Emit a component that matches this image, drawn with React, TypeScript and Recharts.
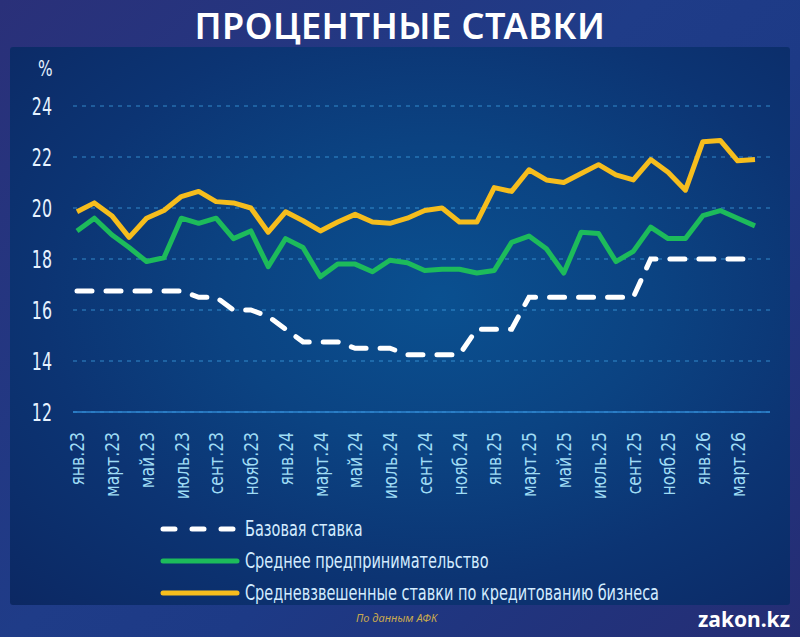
import React from 'react';
import { LineChart, Line, XAxis, YAxis, CartesianGrid, Legend } from 'recharts';

const months = [
  'янв.23', 'февр.23', 'март.23', 'апр.23', 'май.23', 'июнь.23', 'июль.23', 'авг.23', 'сент.23', 'окт.23', 'нояб.23', 'дек.23',
  'янв.24', 'февр.24', 'март.24', 'апр.24', 'май.24', 'июнь.24', 'июль.24', 'авг.24', 'сент.24', 'окт.24', 'нояб.24', 'дек.24',
  'янв.25', 'февр.25', 'март.25', 'апр.25', 'май.25', 'июнь.25', 'июль.25', 'авг.25', 'сент.25', 'окт.25', 'нояб.25', 'дек.25',
  'янв.26', 'февр.26', 'март.26', 'апр.26',
];

const baseRate = [
  16.75, 16.75, 16.75, 16.75, 16.75, 16.75, 16.75, 16.5, 16.5, 16.0, 16.0, 15.75,
  15.25, 14.75, 14.75, 14.75, 14.5, 14.5, 14.5, 14.25, 14.25, 14.25, 14.25, 15.25,
  15.25, 15.25, 16.5, 16.5, 16.5, 16.5, 16.5, 16.5, 16.5, 18, 18, 18,
  18, 18, 18, 18,
];

const avgBusiness = [
  19.1, 19.6, 18.95, 18.45, 17.9, 18.05, 19.6, 19.4, 19.6, 18.8, 19.1, 17.7,
  18.8, 18.45, 17.3, 17.8, 17.8, 17.5, 17.95, 17.85, 17.55, 17.6, 17.6, 17.45,
  17.55, 18.65, 18.9, 18.4, 17.45, 19.05, 19.0, 17.9, 18.3, 19.25, 18.8, 18.8,
  19.7, 19.9, 19.6, 19.3,
];

const weightedLending = [
  19.85, 20.2, 19.7, 18.85, 19.6, 19.9, 20.45, 20.65, 20.25, 20.2, 20.0, 19.05,
  19.85, 19.5, 19.1, 19.45, 19.75, 19.45, 19.4, 19.6, 19.9, 20.0, 19.45, 19.45,
  20.8, 20.65, 21.5, 21.1, 21.0, 21.35, 21.7, 21.3, 21.1, 21.9, 21.4, 20.7,
  22.6, 22.65, 21.85, 21.9,
];

const seriesOrder = ['base', 'avg', 'weighted'];
const yTicks = [12, 14, 16, 18, 20, 22, 24];
const xTicks = months.map((_, i) => i).filter((i) => i % 2 === 0);

const data = months.map((m, i) => ({
  idx: i,
  month: m,
  base: baseRate[i],
  avg: avgBusiness[i],
  weighted: weightedLending[i],
}));

const FONT = "'DejaVu Sans', sans-serif";

const XTick = (props: any) => {
  const { x, y, payload } = props;
  const ty = y + 12;
  return (
    <g transform={`translate(${x}, ${ty}) rotate(-90) scale(0.78, 1)`}>
      <text x={0} y={0} textAnchor="end" dy="0.36em" fill="#9fdcf5" fontSize={20} fontFamily={FONT}>
        {months[payload.value]}
      </text>
    </g>
  );
};

const YTick = (props: any) => {
  const { x, y, payload } = props;
  return (
    <g transform={`translate(${x}, ${y}) scale(0.66, 1)`}>
      <text x={0} y={0} textAnchor="end" dy="0.36em" fill="#e6f2ff" fontSize={24} fontFamily={FONT}>
        {payload.value}
      </text>
    </g>
  );
};

const LegendBox = (props: any) => {
  const items = [...(props.payload || [])].sort(
    (a: any, b: any) => seriesOrder.indexOf(a.dataKey) - seriesOrder.indexOf(b.dataKey)
  );
  return (
    <div style={{ display: 'flex', flexDirection: 'column', gap: 8 }}>
      {items.map((entry: any) => (
        <div key={entry.dataKey} style={{ display: 'flex', alignItems: 'center', height: 24 }}>
          <svg width={82} height={10} style={{ marginRight: 4, flex: 'none' }}>
            <line
              x1={4}
              y1={5}
              x2={78}
              y2={5}
              stroke={entry.color}
              strokeWidth={5}
              strokeLinecap="round"
              strokeDasharray={entry.dataKey === 'base' ? '12 17' : undefined}
            />
          </svg>
          <span
            style={{
              color: '#d3ecff',
              fontSize: 21,
              fontFamily: FONT,
              whiteSpace: 'nowrap',
              display: 'inline-block',
              transform: 'scaleX(0.69)',
              transformOrigin: 'left center',
            }}
          >
            {entry.value}
          </span>
        </div>
      ))}
    </div>
  );
};

export default function App() {
  return (
    <div
      style={{
        position: 'absolute',
        left: 0,
        top: 0,
        width: 800,
        height: 637,
        overflow: 'hidden',
        background: 'linear-gradient(135deg, #2a3079 0%, #1f3c88 45%, #1d3a86 60%, #252d74 100%)',
      }}
    >
      <div
        style={{
          position: 'absolute',
          left: 10,
          top: 47,
          width: 780,
          height: 558,
          borderRadius: 3,
          background:
            'radial-gradient(ellipse at 55% 45%, #0a5090 0%, #0b4382 35%, #0c3473 65%, #0c2863 100%)',
        }}
      />
      <div
        style={{
          position: 'absolute',
          left: 0,
          top: 1,
          width: 800,
          textAlign: 'center',
          color: '#ffffff',
          fontFamily: "'Noto Sans', 'Open Sans', sans-serif",
          fontWeight: 600,
          fontSize: 36,
          letterSpacing: 0.5,
        }}
      >
        ПРОЦЕНТНЫЕ СТАВКИ
      </div>
      <div
        style={{
          position: 'absolute',
          left: 38,
          top: 56,
          color: '#e6f2ff',
          fontFamily: FONT,
          fontSize: 22,
          transform: 'scaleX(0.7)',
          transformOrigin: 'left top',
        }}
      >
        %
      </div>
      <div style={{ position: 'absolute', left: 0, top: 0 }}>
        <LineChart
          width={800}
          height={637}
          data={data}
          margin={{ top: 106, right: 30, bottom: 135, left: 33 }}
        >
          <CartesianGrid
            horizontal
            vertical={false}
            stroke="#3d9ee0"
            strokeDasharray="4 5"
            strokeOpacity={0.8}
          />
          <XAxis
            dataKey="idx"
            type="number"
            domain={[0, 39]}
            ticks={xTicks}
            interval={0}
            padding={{ left: 4, right: 15 }}
            tick={<XTick />}
            tickLine={false}
            axisLine={{ stroke: '#2f86d0', strokeWidth: 1.5 }}
            height={90}
          />
          <YAxis
            domain={[12, 24]}
            ticks={yTicks}
            interval={0}
            width={40}
            tickSize={0}
            tickMargin={21}
            axisLine={false}
            tickLine={false}
            tick={<YTick />}
          />
          <Legend
            layout="vertical"
            align="center"
            verticalAlign="middle"
            wrapperStyle={{ left: 159, top: 517, width: 600 }}
            content={<LegendBox />}
          />
          <Line
            type="linear"
            dataKey="base"
            name="Базовая ставка"
            stroke="#ffffff"
            strokeWidth={5}
            strokeDasharray="15 14"
            strokeLinecap="round"
            dot={false}
            isAnimationActive={false}
          />
          <Line
            type="linear"
            dataKey="avg"
            name="Среднее предпринимательство"
            stroke="#1dbb5b"
            strokeWidth={5}
            strokeLinejoin="round"
            dot={false}
            isAnimationActive={false}
          />
          <Line
            type="linear"
            dataKey="weighted"
            name="Средневзвешенные ставки по кредитованию бизнеса"
            stroke="#f6bd1d"
            strokeWidth={5}
            strokeLinejoin="round"
            dot={false}
            isAnimationActive={false}
          />
        </LineChart>
      </div>
      <div
        style={{
          position: 'absolute',
          left: 356,
          top: 610,
          color: '#c9a94e',
          fontStyle: 'italic',
          fontFamily: "'Noto Sans', sans-serif",
          fontSize: 11,
        }}
      >
        По данным АФК
      </div>
      <div
        style={{
          position: 'absolute',
          right: 10,
          top: 605,
          color: '#ffffff',
          fontWeight: 700,
          fontFamily: "'Noto Sans', 'Open Sans', sans-serif",
          fontSize: 21,
        }}
      >
        zakon.kz
      </div>
    </div>
  );
}
